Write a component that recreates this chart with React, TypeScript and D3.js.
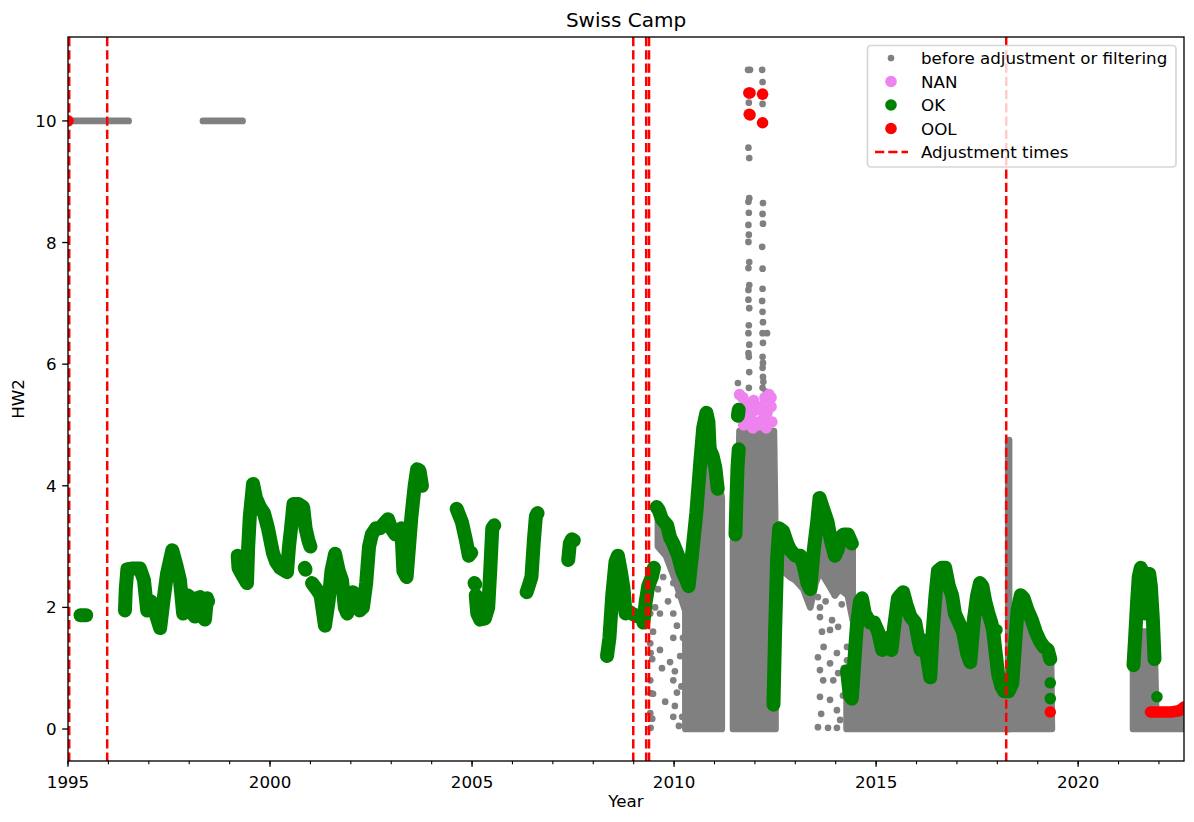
import React from "react";
import * as d3 from "d3";

type P = [number, number];
type B = [number, number, number];

const W = 1194, H = 822;
const plot = { left: 68, right: 1184, top: 37, bottom: 761 };

// adjustment times, decimal years
const adjustmentTimes = [1995.03, 1995.97, 2008.99, 2009.31, 2009.38, 2018.22];

const majorYears = [1995, 2000, 2005, 2010, 2015, 2020];
const yTicks = [0, 2, 4, 6, 8, 10];

// "before adjustment or filtering" (gray)
const rawFlat1995: P[] = [[1995.0, 10], [1996.5, 10]];
const rawFlat1998: P[] = [[1998.34, 10], [1999.32, 10]];

const rawSpike2012: P[] = [
  [2011.83, 10.84], [2011.88, 10.84], [2011.85, 10.3], [2011.84, 9.56], [2011.86, 9.39],
  [2011.86, 8.73], [2011.84, 8.67], [2011.85, 8.49], [2011.84, 8.29], [2011.85, 8.13],
  [2011.84, 8.01], [2011.86, 7.68], [2011.84, 7.58], [2011.86, 7.3], [2011.84, 7.22],
  [2011.84, 7.06], [2011.86, 6.92], [2011.85, 6.64], [2011.84, 6.51], [2011.86, 6.32],
  [2011.84, 6.18], [2011.85, 6.12], [2011.86, 5.87], [2011.58, 5.69], [2011.85, 5.61],
  [2012.18, 10.84], [2012.19, 10.64], [2012.19, 10.28], [2012.2, 8.65], [2012.19, 8.47],
  [2012.2, 8.31], [2012.18, 7.93], [2012.19, 7.57], [2012.19, 7.24], [2012.18, 7.04],
  [2012.19, 6.86], [2012.2, 6.69], [2012.19, 6.51], [2012.3, 6.51], [2012.2, 6.35],
  [2012.19, 6.12], [2012.2, 6.02], [2012.19, 5.94], [2012.2, 5.79], [2012.21, 5.71],
  [2012.19, 5.61], [2011.73, 5.45], [2012.27, 5.55],
];

const rawScatter2009: P[] = [
  [2009.41, 2.24], [2009.41, 1.9], [2009.41, 1.41], [2009.42, 1.25], [2009.41, 0.8],
  [2009.42, 0.59], [2009.41, 0.26], [2009.42, 0.02], [2009.48, 2.34], [2009.53, 2.0],
  [2009.65, 1.9], [2009.48, 1.6], [2009.46, 1.15], [2009.7, 1.0], [2009.48, 0.58],
  [2009.46, 0.17], [2009.73, 2.5], [2009.98, 2.4], [2009.98, 1.9], [2010.07, 1.7],
  [2009.98, 1.5], [2010.15, 1.2], [2010.02, 0.95], [2009.98, 0.8], [2010.07, 0.6],
  [2010.02, 0.38], [2009.98, 0.2], [2010.2, 0.2], [2009.65, 1.3], [2009.85, 2.1],
  [2009.9, 1.1], [2010.1, 2.2], [2010.12, 0.05], [2010.18, 0.7], [2010.22, 1.5],
  [2009.78, 0.45], [2009.6, 2.3],
];

const rawScatter2013: P[] = [
  [2013.56, 2.17], [2013.61, 2.0], [2013.61, 1.84], [2013.66, 1.6], [2013.91, 1.79],
  [2013.86, 1.63], [2014.06, 1.68], [2013.56, 1.18], [2013.61, 0.97], [2013.69, 0.8],
  [2013.86, 1.08], [2014.03, 1.25], [2014.06, 0.92], [2013.94, 0.8], [2013.86, 0.48],
  [2014.03, 0.31], [2013.61, 0.53], [2013.56, 0.03], [2013.81, 0.02], [2014.03, 0.02],
  [2014.11, 0.15], [2014.28, 1.35], [2014.28, 1.13], [2014.23, 2.34], [2014.31, 2.5],
  [2014.36, 0.8], [2013.75, 2.1], [2014.15, 2.05], [2013.7, 1.35], [2014.18, 0.55],
  [2013.98, 2.2], [2013.64, 0.25], [2014.2, 1.0],
];

// dense gray blocks: [year, low, high]
const rawBand2009: B[] = [
  [2009.6, 3.0, 3.55], [2009.8, 2.85, 3.3], [2010.0, 2.5, 3.0], [2010.2, 2.1, 2.6], [2010.3, 1.9, 2.3],
];
const rawBand2010: B[] = [
  [2010.28, 0, 2.2], [2010.4, 0, 2.6], [2010.55, 0, 3.5], [2010.65, 0, 4.3], [2010.72, 0, 4.75],
  [2010.85, 0, 4.8], [2010.95, 0, 4.7], [2011.05, 0, 4.3], [2011.12, 0, 4.0], [2011.18, 0, 3.8],
];
const rawBand2011: B[] = [
  [2011.46, 0, 3.1], [2011.56, 0, 3.1], [2011.62, 0, 4.9], [2012.47, 0, 4.9], [2012.5, 0, 3.5], [2012.51, 0, 0.2],
];
const rawBand2012: B[] = [
  [2012.56, 2.6, 3.2], [2012.7, 2.6, 3.1], [2012.87, 2.5, 2.9], [2013.0, 2.45, 2.8], [2013.2, 2.3, 2.65],
  [2013.37, 2.0, 2.3], [2013.5, 2.4, 3.2], [2013.62, 2.6, 3.7], [2013.8, 2.4, 3.3], [2013.98, 2.2, 2.8],
  [2014.1, 2.3, 3.0], [2014.3, 2.2, 3.1], [2014.42, 1.8, 3.0],
];
const rawBand2014: B[] = [
  [2014.27, 0, 1.0], [2014.4, 0, 0.5], [2014.5, 0, 1.6], [2014.6, 0, 2.0], [2014.75, 0, 1.8],
  [2014.9, 0, 1.7], [2015.05, 0, 1.5], [2015.15, 0, 1.2], [2015.3, 0, 1.4], [2015.42, 0, 1.2],
  [2015.55, 0, 2.1], [2015.67, 0, 2.2], [2015.8, 0, 1.9], [2016.0, 0, 1.7], [2016.1, 0, 1.2],
  [2016.2, 0, 1.4], [2016.34, 0, 0.75], [2016.45, 0, 2.0], [2016.55, 0, 2.6], [2016.7, 0, 2.6],
  [2016.9, 0, 2.2], [2017.0, 0, 1.7], [2017.15, 0, 1.5], [2017.33, 0, 1.0], [2017.5, 0, 2.1],
  [2017.62, 0, 2.3], [2017.75, 0, 1.95], [2017.9, 0, 1.5], [2018.0, 0, 0.9], [2018.12, 0, 0.55],
  [2018.3, 0, 0.6], [2018.45, 0, 1.5], [2018.6, 0, 2.1], [2018.8, 0, 1.9], [2019.0, 0, 1.55],
  [2019.15, 0, 1.3], [2019.33, 0, 1.1], [2019.35, 0, 0],
];
const rawSpike2018: B[] = [[2018.27, 0, 4.75], [2018.29, 0, 4.75]];
const rawBand2021: B[] = [
  [2021.36, 0, 1.0], [2021.45, 0, 1.4], [2021.55, 0, 1.6], [2021.7, 0, 1.6], [2021.8, 0, 1.6],
  [2021.9, 0, 1.1], [2021.93, 0, 0.3], [2022.62, 0, 0.3],
];

// NAN flags (violet)
const nanPoints: P[] = [
  [2011.62, 5.5], [2011.66, 5.25], [2011.7, 5.45], [2011.75, 5.3], [2011.8, 5.1], [2011.83, 5.35],
  [2011.88, 5.0], [2011.92, 5.2], [2011.97, 5.4], [2012.0, 5.05], [2012.05, 5.25], [2012.1, 5.0],
  [2012.15, 5.3], [2012.2, 5.1], [2012.25, 5.45], [2012.3, 5.2], [2012.35, 5.5], [2012.4, 5.3],
  [2012.42, 5.05], [2011.72, 5.0], [2012.28, 4.95], [2011.95, 4.95], [2012.4, 5.45],
];

// OK (green) runs
const ok1995: P[] = [[1995.31, 1.87], [1995.45, 1.87]];
const ok1996: P[] = [
  [1996.41, 1.95], [1996.43, 2.3], [1996.47, 2.63], [1996.6, 2.64], [1996.78, 2.64], [1996.88, 2.45],
  [1996.96, 1.95], [1997.05, 2.1], [1997.12, 2.0], [1997.28, 1.66], [1997.36, 2.1], [1997.45, 2.55],
  [1997.58, 2.94], [1997.68, 2.7], [1997.77, 2.45], [1997.85, 1.9], [1997.95, 2.2], [1998.02, 2.17],
  [1998.08, 1.9], [1998.14, 1.85], [1998.2, 2.15], [1998.27, 2.17], [1998.33, 1.85], [1998.39, 1.8],
  [1998.44, 2.15], [1998.47, 2.1],
];
const ok1999: P[] = [
  [1999.2, 2.85], [1999.22, 2.65], [1999.3, 2.55], [1999.43, 2.4], [1999.46, 3.0], [1999.5, 3.5],
  [1999.58, 4.03], [1999.65, 3.8], [1999.75, 3.65], [1999.85, 3.55], [1999.95, 3.3], [2000.07, 2.9],
  [2000.15, 2.75], [2000.25, 2.65], [2000.42, 2.58], [2000.47, 3.0], [2000.52, 3.3], [2000.58, 3.7],
  [2000.7, 3.7], [2000.82, 3.65], [2000.88, 3.3], [2000.95, 3.1], [2001.0, 3.0],
];
const ok2000: P[] = [[2000.86, 2.65], [2000.88, 2.62]];
const ok2001: P[] = [
  [2001.04, 2.4], [2001.15, 2.3], [2001.25, 2.2], [2001.36, 1.7], [2001.45, 2.1], [2001.52, 2.6],
  [2001.61, 2.88], [2001.7, 2.6], [2001.78, 2.45], [2001.85, 2.0], [2001.91, 1.9], [2001.98, 2.2],
  [2002.05, 2.25], [2002.15, 2.1], [2002.22, 1.95], [2002.3, 2.0], [2002.38, 2.4], [2002.45, 3.0],
  [2002.52, 3.2], [2002.62, 3.3], [2002.72, 3.3], [2002.85, 3.4], [2002.92, 3.45], [2003.0, 3.3],
  [2003.1, 3.2], [2003.18, 3.2], [2003.25, 3.3], [2003.3, 2.6], [2003.38, 2.5], [2003.44, 3.0],
  [2003.5, 3.5], [2003.58, 4.0], [2003.64, 4.27], [2003.7, 4.25], [2003.76, 4.0],
];
const ok2004: P[] = [[2004.62, 3.62], [2004.75, 3.4], [2004.85, 3.1], [2004.92, 2.85], [2004.98, 2.9]];
const ok2005a: P[] = [[2005.06, 2.4], [2005.08, 2.38]];
const ok2005b: P[] = [
  [2005.09, 2.2], [2005.13, 1.9], [2005.2, 1.8], [2005.32, 1.82], [2005.4, 2.0], [2005.45, 2.6],
  [2005.5, 3.3], [2005.55, 3.35],
];
const ok2006: P[] = [[2006.35, 2.25], [2006.4, 2.35], [2006.47, 2.5], [2006.53, 3.1], [2006.58, 3.5], [2006.62, 3.55]];
const ok2007: P[] = [[2007.38, 2.78], [2007.42, 3.05], [2007.47, 3.12], [2007.52, 3.1]];
const ok2008: P[] = [
  [2008.34, 1.2], [2008.4, 1.5], [2008.47, 2.2], [2008.55, 2.75], [2008.61, 2.85], [2008.68, 2.6],
  [2008.75, 2.3], [2008.8, 1.9], [2008.84, 1.95], [2008.95, 1.9], [2009.1, 1.85], [2009.2, 1.85],
  [2009.24, 1.75], [2009.3, 2.1], [2009.36, 2.35], [2009.45, 2.5], [2009.5, 2.65],
];
const ok2009: P[] = [
  [2009.57, 3.65], [2009.62, 3.6], [2009.7, 3.45], [2009.83, 3.35], [2009.9, 3.15], [2009.98, 3.05],
  [2010.1, 2.85], [2010.2, 2.6], [2010.3, 2.45], [2010.36, 2.35], [2010.45, 2.9], [2010.55, 3.55],
  [2010.65, 4.4], [2010.72, 4.95], [2010.8, 5.2], [2010.85, 5.05], [2010.88, 4.6], [2010.95, 4.5],
  [2011.02, 4.3], [2011.08, 3.95],
];
const ok2011a: P[] = [[2011.52, 3.2], [2011.54, 3.7], [2011.57, 4.3], [2011.6, 4.6]];
const ok2011b: P[] = [[2011.58, 5.15], [2011.6, 5.25]];
const ok2012: P[] = [
  [2012.46, 0.4], [2012.5, 1.6], [2012.55, 2.8], [2012.6, 3.3], [2012.7, 3.25], [2012.8, 3.05],
  [2012.87, 2.95], [2013.0, 2.85], [2013.12, 2.85], [2013.2, 2.7], [2013.3, 2.4], [2013.37, 2.3],
  [2013.45, 2.9], [2013.54, 3.4], [2013.6, 3.8], [2013.7, 3.6], [2013.8, 3.4], [2013.88, 3.1],
  [2013.98, 2.85], [2014.05, 2.95], [2014.12, 3.15], [2014.2, 3.2], [2014.3, 3.2], [2014.4, 3.05],
];
const ok2014: P[] = [
  [2014.28, 0.95], [2014.35, 0.55], [2014.4, 0.5], [2014.47, 1.2], [2014.53, 1.75], [2014.6, 2.1],
  [2014.65, 2.15], [2014.72, 1.9], [2014.85, 1.75], [2014.95, 1.75], [2015.05, 1.6], [2015.15, 1.3],
  [2015.22, 1.4], [2015.3, 1.5], [2015.38, 1.3], [2015.45, 1.7], [2015.54, 2.15], [2015.6, 2.2],
  [2015.67, 2.25], [2015.75, 2.05], [2015.85, 1.85], [2015.97, 1.75], [2016.05, 1.45], [2016.1, 1.3],
  [2016.2, 1.45], [2016.28, 1.1], [2016.34, 0.85], [2016.4, 1.6], [2016.47, 2.2], [2016.53, 2.6],
  [2016.62, 2.65], [2016.71, 2.65], [2016.8, 2.35], [2016.88, 2.2], [2016.95, 1.9], [2017.05, 1.75],
  [2017.15, 1.6], [2017.25, 1.25], [2017.33, 1.1], [2017.42, 1.8], [2017.5, 2.2], [2017.57, 2.4],
  [2017.63, 2.35], [2017.7, 2.1], [2017.78, 1.9], [2017.85, 1.75], [2017.9, 1.6], [2017.95, 1.3],
  [2018.02, 0.9], [2018.1, 0.7], [2018.17, 0.62], [2018.28, 0.62], [2018.37, 0.75], [2018.44, 1.4],
  [2018.5, 1.95], [2018.58, 2.2], [2018.65, 2.15], [2018.75, 1.95], [2018.85, 1.8], [2018.95, 1.6],
  [2019.05, 1.45], [2019.15, 1.35], [2019.25, 1.3], [2019.31, 1.15],
];
const ok2021: P[] = [
  [2021.37, 1.05], [2021.41, 1.5], [2021.46, 2.1], [2021.5, 2.5], [2021.55, 2.65], [2021.62, 2.55],
  [2021.66, 1.9], [2021.7, 2.3], [2021.76, 2.55], [2021.8, 2.35], [2021.85, 1.8], [2021.89, 1.15],
];
const okPoints: P[] = [[2017.99, 1.63], [2019.31, 0.76], [2019.31, 0.5], [2021.95, 0.53]];

// OOL (red)
const oolPoints: P[] = [
  [1995.0, 10.0], [2011.85, 10.46], [2011.88, 10.46], [2012.19, 10.44], [2011.86, 10.11],
  [2011.88, 10.1], [2012.19, 9.97], [2019.31, 0.28],
];
const ool2022: P[] = [[2021.79, 0.28], [2022.0, 0.28], [2022.3, 0.28], [2022.5, 0.3], [2022.62, 0.36]];

const okRuns = [ok1995, ok1996, ok1999, ok2000, ok2001, ok2004, ok2005a, ok2005b, ok2006, ok2007,
  ok2008, ok2009, ok2011a, ok2011b, ok2012, ok2014, ok2021];
const rawBands = [rawBand2009, rawBand2010, rawBand2011, rawBand2012, rawBand2014, rawSpike2018, rawBand2021];

const GRAY = "#808080", GREEN = "#008000", RED = "#ff0000", VIOLET = "#ee82ee";
const FONT = "DejaVu Sans, sans-serif";
const rBig = 5.8, rSmall = 3.35;
// dense daily data stacks many markers, so runs read wider than one marker
const runWidth = 14;

export default function App() {
  const x = d3.scaleLinear().domain([1995, 2022.62]).range([plot.left, plot.right]);
  const y = d3.scaleLinear().domain([-0.526, 11.38]).range([plot.bottom, plot.top]);

  const line = d3.line<P>().x(d => x(d[0])).y(d => y(d[1]));
  const area = d3.area<B>().x(d => x(d[0])).y0(d => y(d[1])).y1(d => y(d[2]));
  const minorYears = d3.range(1995, 2023);

  const legendRows = [
    { label: "before adjustment or filtering", kind: "dot" },
    { label: "NAN", kind: "nan" },
    { label: "OK", kind: "ok" },
    { label: "OOL", kind: "ool" },
    { label: "Adjustment times", kind: "line" },
  ];

  return (
    <div style={{ position: "fixed", left: 0, top: 0 }}>
      <svg width={W} height={H} style={{ display: "block", background: "#fff" }} fontFamily={FONT}>
        <defs>
          <clipPath id="plotClip">
            <rect x={plot.left} y={plot.top} width={plot.right - plot.left} height={plot.bottom - plot.top} />
          </clipPath>
        </defs>
        <g clipPath="url(#plotClip)">
          {/* raw data */}
          {[rawFlat1995, rawFlat1998].map((d, i) => (
            <path key={"rf" + i} d={line(d) || ""} fill="none" stroke={GRAY} strokeWidth={rSmall * 2} strokeLinecap="round" />
          ))}
          {rawBands.map((d, i) => (
            <path key={"rb" + i} d={area(d) || ""} fill={GRAY} stroke={GRAY} strokeWidth={rSmall * 2} strokeLinejoin="round" />
          ))}
          {[...rawSpike2012, ...rawScatter2009, ...rawScatter2013].map((d, i) => (
            <circle key={"rs" + i} cx={x(d[0])} cy={y(d[1])} r={rSmall} fill={GRAY} />
          ))}
          {/* NAN */}
          {nanPoints.map((d, i) => (
            <circle key={"n" + i} cx={x(d[0])} cy={y(d[1])} r={rBig} fill={VIOLET} />
          ))}
          {/* OK */}
          {okRuns.map((d, i) => (
            <path key={"ok" + i} d={line(d) || ""} fill="none" stroke={GREEN} strokeWidth={runWidth}
              strokeLinecap="round" strokeLinejoin="round" />
          ))}
          {okPoints.map((d, i) => (
            <circle key={"okp" + i} cx={x(d[0])} cy={y(d[1])} r={rBig} fill={GREEN} />
          ))}
          {/* OOL */}
          <path d={line(ool2022) || ""} fill="none" stroke={RED} strokeWidth={rBig * 2} strokeLinecap="round" strokeLinejoin="round" />
          {oolPoints.map((d, i) => (
            <circle key={"oo" + i} cx={x(d[0])} cy={y(d[1])} r={rBig} fill={RED} />
          ))}
          {/* adjustment times */}
          {adjustmentTimes.map((t, i) => (
            <line key={"adj" + i} x1={x(t)} x2={x(t)} y1={plot.top} y2={plot.bottom}
              stroke={RED} strokeWidth={2.5} strokeDasharray="9.25,4" />
          ))}
        </g>

        {/* spines */}
        <rect x={plot.left} y={plot.top} width={plot.right - plot.left} height={plot.bottom - plot.top}
          fill="none" stroke="#000" strokeWidth={1.33} />

        {/* x axis */}
        {minorYears.map(t => (
          <line key={"mx" + t} x1={x(t)} x2={x(t)} y1={plot.bottom} y2={plot.bottom + 3.3} stroke="#000" strokeWidth={1.1} />
        ))}
        {majorYears.map(t => (
          <g key={"Mx" + t}>
            <line x1={x(t)} x2={x(t)} y1={plot.bottom} y2={plot.bottom + 5.8} stroke="#000" strokeWidth={1.33} />
            <text x={x(t)} y={788} textAnchor="middle" fontSize={16.7} fill="#000">{t}</text>
          </g>
        ))}
        <text x={(plot.left + plot.right) / 2} y={807} textAnchor="middle" fontSize={16.7}>Year</text>

        {/* y axis */}
        {yTicks.map(v => (
          <g key={"y" + v}>
            <line x1={plot.left - 5.8} x2={plot.left} y1={y(v)} y2={y(v)} stroke="#000" strokeWidth={1.33} />
            <text x={plot.left - 11.5} y={y(v) + 6} textAnchor="end" fontSize={16.7}>{v}</text>
          </g>
        ))}
        <text transform={`translate(24,${(plot.top + plot.bottom) / 2}) rotate(-90)`} textAnchor="middle" fontSize={16.7}>HW2</text>

        <text x={(plot.left + plot.right) / 2} y={27} textAnchor="middle" fontSize={20}>Swiss Camp</text>

        {/* legend */}
        <rect x={867.5} y={45.5} width={308.5} height={121.5} rx={3.3} fill="#fff" fillOpacity={0.8}
          stroke="#ccc" strokeOpacity={0.8} strokeWidth={1.67} />
        {legendRows.map((r, i) => {
          const cy = 58 + i * 23.5;
          return (
            <g key={"lg" + i}>
              {r.kind === "dot" && <circle cx={891} cy={cy} r={rSmall} fill={GRAY} />}
              {r.kind === "nan" && <circle cx={891} cy={cy} r={rBig} fill={VIOLET} />}
              {r.kind === "ok" && <circle cx={891} cy={cy} r={rBig} fill={GREEN} />}
              {r.kind === "ool" && <circle cx={891} cy={cy} r={rBig} fill={RED} />}
              {r.kind === "line" && (
                <line x1={875} x2={908} y1={cy} y2={cy} stroke={RED} strokeWidth={2.5} strokeDasharray="9.25,4" />
              )}
              <text x={921} y={cy + 6} fontSize={16.7}>{r.label}</text>
            </g>
          );
        })}
      </svg>
    </div>
  );
}
